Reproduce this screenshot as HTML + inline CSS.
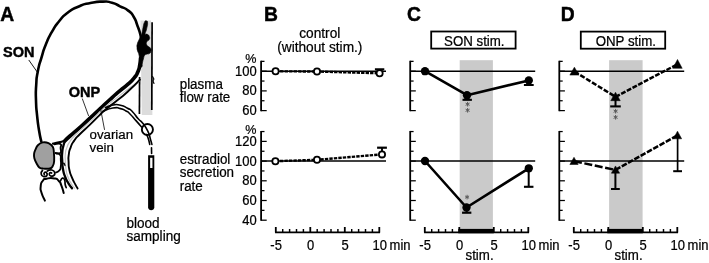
<!DOCTYPE html>
<html><head><meta charset="utf-8"><title>Figure</title>
<style>
html,body{margin:0;padding:0;background:#fff;}
body{width:709px;height:263px;overflow:hidden;font-family:"Liberation Sans",sans-serif;}
svg{display:block;filter:grayscale(1);}
</style></head><body>
<svg width="709" height="263" viewBox="0 0 709 263" font-family="'Liberation Sans', sans-serif">
<rect width="709" height="263" fill="#fff"/>
<rect x="459.7" y="60.2" width="33.2" height="172.2" fill="#cacaca"/>
<rect x="609.1" y="60.2" width="33.5" height="172.2" fill="#cacaca"/>
<text transform="translate(0.3,21.3) scale(1,1.08)" font-size="19.3" text-anchor="start" font-weight="bold" fill="#000" stroke="#000" stroke-width="0.45" >A</text>
<text transform="translate(263.9,21.2) scale(1,1.08)" font-size="19.3" text-anchor="start" font-weight="bold" fill="#000" stroke="#000" stroke-width="0.45" >B</text>
<text transform="translate(407.1,21.4) scale(1,1.08)" font-size="19.3" text-anchor="start" font-weight="bold" fill="#000" stroke="#000" stroke-width="0.45" >C</text>
<text transform="translate(560.8,21.2) scale(1,1.08)" font-size="19.3" text-anchor="start" font-weight="bold" fill="#000" stroke="#000" stroke-width="0.45" >D</text>
<text transform="translate(319.8,37.7) scale(1,1.05)" font-size="13.7" text-anchor="middle" font-weight="normal" fill="#000" stroke="#000" stroke-width="0.22" >control</text>
<text transform="translate(319.8,51.5) scale(1,1.05)" font-size="13.7" text-anchor="middle" font-weight="normal" fill="#000" stroke="#000" stroke-width="0.22" >(without stim.)</text>
<text transform="translate(250.8,62.8) scale(1,1.08)" font-size="12.6" text-anchor="middle" font-weight="normal" fill="#000" stroke="#000" stroke-width="0.22" >%</text>
<text transform="translate(250.8,133.5) scale(1,1.08)" font-size="12.6" text-anchor="middle" font-weight="normal" fill="#000" stroke="#000" stroke-width="0.22" >%</text>
<line x1="261.10" y1="60.75" x2="261.10" y2="111.20" stroke="#000" stroke-width="1.8" />
<line x1="261.10" y1="61.35" x2="264.50" y2="61.35" stroke="#000" stroke-width="1.25" />
<line x1="261.10" y1="71.20" x2="266.70" y2="71.20" stroke="#000" stroke-width="1.25" />
<text transform="translate(256.8,75.75) scale(1,1.08)" font-size="13" text-anchor="end" font-weight="normal" fill="#000" stroke="#000" stroke-width="0.22" >100</text>
<line x1="261.10" y1="81.05" x2="264.50" y2="81.05" stroke="#000" stroke-width="1.25" />
<line x1="261.10" y1="90.90" x2="266.70" y2="90.90" stroke="#000" stroke-width="1.25" />
<text transform="translate(256.8,95.45) scale(1,1.08)" font-size="13" text-anchor="end" font-weight="normal" fill="#000" stroke="#000" stroke-width="0.22" >80</text>
<line x1="261.10" y1="100.75" x2="264.50" y2="100.75" stroke="#000" stroke-width="1.25" />
<line x1="261.10" y1="110.60" x2="266.70" y2="110.60" stroke="#000" stroke-width="1.25" />
<text transform="translate(256.8,115.14999999999999) scale(1,1.08)" font-size="13" text-anchor="end" font-weight="normal" fill="#000" stroke="#000" stroke-width="0.22" >60</text>
<line x1="261.10" y1="130.95" x2="261.10" y2="220.80" stroke="#000" stroke-width="1.8" />
<line x1="261.10" y1="131.55" x2="264.50" y2="131.55" stroke="#000" stroke-width="1.25" />
<line x1="261.10" y1="141.40" x2="266.70" y2="141.40" stroke="#000" stroke-width="1.25" />
<text transform="translate(256.8,145.95000000000002) scale(1,1.08)" font-size="13" text-anchor="end" font-weight="normal" fill="#000" stroke="#000" stroke-width="0.22" >120</text>
<line x1="261.10" y1="151.25" x2="264.50" y2="151.25" stroke="#000" stroke-width="1.25" />
<line x1="261.10" y1="161.10" x2="266.70" y2="161.10" stroke="#000" stroke-width="1.25" />
<text transform="translate(256.8,165.65) scale(1,1.08)" font-size="13" text-anchor="end" font-weight="normal" fill="#000" stroke="#000" stroke-width="0.22" >100</text>
<line x1="261.10" y1="170.95" x2="264.50" y2="170.95" stroke="#000" stroke-width="1.25" />
<line x1="261.10" y1="180.80" x2="266.70" y2="180.80" stroke="#000" stroke-width="1.25" />
<text transform="translate(256.8,185.35) scale(1,1.08)" font-size="13" text-anchor="end" font-weight="normal" fill="#000" stroke="#000" stroke-width="0.22" >80</text>
<line x1="261.10" y1="190.65" x2="264.50" y2="190.65" stroke="#000" stroke-width="1.25" />
<line x1="261.10" y1="200.50" x2="266.70" y2="200.50" stroke="#000" stroke-width="1.25" />
<text transform="translate(256.8,205.05) scale(1,1.08)" font-size="13" text-anchor="end" font-weight="normal" fill="#000" stroke="#000" stroke-width="0.22" >60</text>
<line x1="261.10" y1="210.35" x2="264.50" y2="210.35" stroke="#000" stroke-width="1.25" />
<line x1="261.10" y1="220.20" x2="266.70" y2="220.20" stroke="#000" stroke-width="1.25" />
<text transform="translate(256.8,224.75) scale(1,1.08)" font-size="13" text-anchor="end" font-weight="normal" fill="#000" stroke="#000" stroke-width="0.22" >40</text>
<line x1="275.05" y1="232.40" x2="380.05" y2="232.40" stroke="#000" stroke-width="1.7" />
<line x1="275.80" y1="232.40" x2="275.80" y2="227.00" stroke="#000" stroke-width="1.8" />
<line x1="282.70" y1="232.40" x2="282.70" y2="229.00" stroke="#000" stroke-width="1.45" />
<line x1="289.60" y1="232.40" x2="289.60" y2="229.00" stroke="#000" stroke-width="1.45" />
<line x1="296.50" y1="232.40" x2="296.50" y2="229.00" stroke="#000" stroke-width="1.45" />
<line x1="303.40" y1="232.40" x2="303.40" y2="229.00" stroke="#000" stroke-width="1.45" />
<line x1="310.30" y1="232.40" x2="310.30" y2="227.00" stroke="#000" stroke-width="1.8" />
<line x1="317.20" y1="232.40" x2="317.20" y2="229.00" stroke="#000" stroke-width="1.45" />
<line x1="324.10" y1="232.40" x2="324.10" y2="229.00" stroke="#000" stroke-width="1.45" />
<line x1="331.00" y1="232.40" x2="331.00" y2="229.00" stroke="#000" stroke-width="1.45" />
<line x1="337.90" y1="232.40" x2="337.90" y2="229.00" stroke="#000" stroke-width="1.45" />
<line x1="344.80" y1="232.40" x2="344.80" y2="227.00" stroke="#000" stroke-width="1.8" />
<line x1="351.70" y1="232.40" x2="351.70" y2="229.00" stroke="#000" stroke-width="1.45" />
<line x1="358.60" y1="232.40" x2="358.60" y2="229.00" stroke="#000" stroke-width="1.45" />
<line x1="365.50" y1="232.40" x2="365.50" y2="229.00" stroke="#000" stroke-width="1.45" />
<line x1="372.40" y1="232.40" x2="372.40" y2="229.00" stroke="#000" stroke-width="1.45" />
<line x1="379.30" y1="232.40" x2="379.30" y2="227.00" stroke="#000" stroke-width="1.8" />
<text transform="translate(276.1,249.9) scale(1,1.08)" font-size="13" text-anchor="middle" font-weight="normal" fill="#000" stroke="#000" stroke-width="0.22" >-5</text>
<text transform="translate(310.7,249.9) scale(1,1.08)" font-size="13" text-anchor="middle" font-weight="normal" fill="#000" stroke="#000" stroke-width="0.22" >0</text>
<text transform="translate(345.2,249.9) scale(1,1.08)" font-size="13" text-anchor="middle" font-weight="normal" fill="#000" stroke="#000" stroke-width="0.22" >5</text>
<text transform="translate(379.7,249.9) scale(1,1.08)" font-size="13" text-anchor="middle" font-weight="normal" fill="#000" stroke="#000" stroke-width="0.22" >10</text>
<text transform="translate(389.6,249.8) scale(1,1.08)" font-size="13" text-anchor="start" font-weight="normal" fill="#000" stroke="#000" stroke-width="0.22" >min</text>
<text transform="translate(179.7,89.3) scale(1,1.03)" font-size="13.4" text-anchor="start" font-weight="normal" fill="#000" stroke="#000" stroke-width="0.22" >plasma</text>
<text transform="translate(179.7,102) scale(1,1.03)" font-size="13.4" text-anchor="start" font-weight="normal" fill="#000" stroke="#000" stroke-width="0.22" >flow rate</text>
<text transform="translate(179.7,163.8) scale(1,1.03)" font-size="13.4" text-anchor="start" font-weight="normal" fill="#000" stroke="#000" stroke-width="0.22" >estradiol</text>
<text transform="translate(179.7,177.2) scale(1,1.03)" font-size="13.4" text-anchor="start" font-weight="normal" fill="#000" stroke="#000" stroke-width="0.22" >secretion</text>
<text transform="translate(179.7,190.6) scale(1,1.03)" font-size="13.4" text-anchor="start" font-weight="normal" fill="#000" stroke="#000" stroke-width="0.22" >rate</text>
<line x1="261.10" y1="71.20" x2="386.00" y2="71.20" stroke="#000" stroke-width="1.35" />
<line x1="261.10" y1="161.00" x2="386.00" y2="161.00" stroke="#000" stroke-width="1.35" />
<polyline points="275.60,71.30 317.00,71.50 379.60,73.30" fill="none" stroke="#000" stroke-width="2.4" stroke-linejoin="round" stroke-dasharray="3.4 1.1"/>
<polyline points="275.40,161.20 317.00,159.80 382.00,154.40" fill="none" stroke="#000" stroke-width="2.4" stroke-linejoin="round" stroke-dasharray="3.4 1.1"/>
<line x1="379.60" y1="73.30" x2="379.60" y2="69.30" stroke="#000" stroke-width="1.9" />
<line x1="374.90" y1="69.30" x2="384.30" y2="69.30" stroke="#000" stroke-width="2.1" />
<line x1="382.00" y1="154.40" x2="382.00" y2="147.70" stroke="#000" stroke-width="1.9" />
<line x1="377.10" y1="147.70" x2="386.90" y2="147.70" stroke="#000" stroke-width="2.2" />
<circle cx="275.60" cy="71.30" r="3.1" fill="#fff" stroke="#000" stroke-width="1.8"/>
<circle cx="317.00" cy="71.50" r="3.1" fill="#fff" stroke="#000" stroke-width="1.8"/>
<circle cx="379.60" cy="73.30" r="3.1" fill="#fff" stroke="#000" stroke-width="1.8"/>
<circle cx="275.40" cy="161.20" r="3.1" fill="#fff" stroke="#000" stroke-width="1.8"/>
<circle cx="317.00" cy="159.80" r="3.1" fill="#fff" stroke="#000" stroke-width="1.8"/>
<circle cx="382.00" cy="154.40" r="3.1" fill="#fff" stroke="#000" stroke-width="1.8"/>
<rect x="431.2" y="31.5" width="84.4" height="17.1" fill="#fff" stroke="#000" stroke-width="1.8"/>
<text transform="translate(474.3,46) scale(1,1.08)" font-size="13.3" text-anchor="middle" font-weight="normal" fill="#000" stroke="#000" stroke-width="0.22" >SON stim.</text>
<line x1="410.20" y1="60.75" x2="410.20" y2="111.20" stroke="#000" stroke-width="1.8" />
<line x1="410.20" y1="61.35" x2="413.60" y2="61.35" stroke="#000" stroke-width="1.25" />
<line x1="410.20" y1="71.20" x2="415.80" y2="71.20" stroke="#000" stroke-width="1.25" />
<line x1="410.20" y1="81.05" x2="413.60" y2="81.05" stroke="#000" stroke-width="1.25" />
<line x1="410.20" y1="90.90" x2="415.80" y2="90.90" stroke="#000" stroke-width="1.25" />
<line x1="410.20" y1="100.75" x2="413.60" y2="100.75" stroke="#000" stroke-width="1.25" />
<line x1="410.20" y1="110.60" x2="415.80" y2="110.60" stroke="#000" stroke-width="1.25" />
<line x1="410.20" y1="130.95" x2="410.20" y2="220.80" stroke="#000" stroke-width="1.8" />
<line x1="410.20" y1="131.55" x2="413.60" y2="131.55" stroke="#000" stroke-width="1.25" />
<line x1="410.20" y1="141.40" x2="415.80" y2="141.40" stroke="#000" stroke-width="1.25" />
<line x1="410.20" y1="151.25" x2="413.60" y2="151.25" stroke="#000" stroke-width="1.25" />
<line x1="410.20" y1="161.10" x2="415.80" y2="161.10" stroke="#000" stroke-width="1.25" />
<line x1="410.20" y1="170.95" x2="413.60" y2="170.95" stroke="#000" stroke-width="1.25" />
<line x1="410.20" y1="180.80" x2="415.80" y2="180.80" stroke="#000" stroke-width="1.25" />
<line x1="410.20" y1="190.65" x2="413.60" y2="190.65" stroke="#000" stroke-width="1.25" />
<line x1="410.20" y1="200.50" x2="415.80" y2="200.50" stroke="#000" stroke-width="1.25" />
<line x1="410.20" y1="210.35" x2="413.60" y2="210.35" stroke="#000" stroke-width="1.25" />
<line x1="410.20" y1="220.20" x2="415.80" y2="220.20" stroke="#000" stroke-width="1.25" />
<line x1="424.05" y1="232.40" x2="529.05" y2="232.40" stroke="#000" stroke-width="1.7" />
<line x1="424.80" y1="232.40" x2="424.80" y2="227.00" stroke="#000" stroke-width="1.8" />
<line x1="431.70" y1="232.40" x2="431.70" y2="229.00" stroke="#000" stroke-width="1.45" />
<line x1="438.60" y1="232.40" x2="438.60" y2="229.00" stroke="#000" stroke-width="1.45" />
<line x1="445.50" y1="232.40" x2="445.50" y2="229.00" stroke="#000" stroke-width="1.45" />
<line x1="452.40" y1="232.40" x2="452.40" y2="229.00" stroke="#000" stroke-width="1.45" />
<line x1="459.30" y1="232.40" x2="459.30" y2="227.00" stroke="#000" stroke-width="1.8" />
<line x1="466.20" y1="232.40" x2="466.20" y2="229.00" stroke="#000" stroke-width="1.45" />
<line x1="473.10" y1="232.40" x2="473.10" y2="229.00" stroke="#000" stroke-width="1.45" />
<line x1="480.00" y1="232.40" x2="480.00" y2="229.00" stroke="#000" stroke-width="1.45" />
<line x1="486.90" y1="232.40" x2="486.90" y2="229.00" stroke="#000" stroke-width="1.45" />
<line x1="493.80" y1="232.40" x2="493.80" y2="227.00" stroke="#000" stroke-width="1.8" />
<line x1="500.70" y1="232.40" x2="500.70" y2="229.00" stroke="#000" stroke-width="1.45" />
<line x1="507.60" y1="232.40" x2="507.60" y2="229.00" stroke="#000" stroke-width="1.45" />
<line x1="514.50" y1="232.40" x2="514.50" y2="229.00" stroke="#000" stroke-width="1.45" />
<line x1="521.40" y1="232.40" x2="521.40" y2="229.00" stroke="#000" stroke-width="1.45" />
<line x1="528.30" y1="232.40" x2="528.30" y2="227.00" stroke="#000" stroke-width="1.8" />
<text transform="translate(425.1,249.9) scale(1,1.08)" font-size="13" text-anchor="middle" font-weight="normal" fill="#000" stroke="#000" stroke-width="0.22" >-5</text>
<text transform="translate(459.7,249.9) scale(1,1.08)" font-size="13" text-anchor="middle" font-weight="normal" fill="#000" stroke="#000" stroke-width="0.22" >0</text>
<text transform="translate(494.2,249.9) scale(1,1.08)" font-size="13" text-anchor="middle" font-weight="normal" fill="#000" stroke="#000" stroke-width="0.22" >5</text>
<text transform="translate(528.6999999999999,249.9) scale(1,1.08)" font-size="13" text-anchor="middle" font-weight="normal" fill="#000" stroke="#000" stroke-width="0.22" >10</text>
<text transform="translate(538.5999999999999,249.8) scale(1,1.08)" font-size="13" text-anchor="start" font-weight="normal" fill="#000" stroke="#000" stroke-width="0.22" >min</text>
<rect x="458.30" y="228.9" width="35.50" height="4.4" fill="#000"/>
<text transform="translate(479.55,260.1) scale(1,1.08)" font-size="13.3" text-anchor="middle" font-weight="normal" fill="#000" stroke="#000" stroke-width="0.22" >stim.</text>
<line x1="410.20" y1="71.20" x2="535.20" y2="71.20" stroke="#000" stroke-width="1.35" />
<line x1="410.20" y1="161.00" x2="535.20" y2="161.00" stroke="#000" stroke-width="1.35" />
<polyline points="425.00,71.20 467.00,95.20 528.80,80.40" fill="none" stroke="#000" stroke-width="2.6" stroke-linejoin="round" />
<polyline points="425.00,161.00 466.50,207.50 528.80,168.30" fill="none" stroke="#000" stroke-width="2.6" stroke-linejoin="round" />
<line x1="467.20" y1="95.20" x2="467.20" y2="99.80" stroke="#000" stroke-width="1.9" />
<line x1="462.50" y1="99.80" x2="471.90" y2="99.80" stroke="#000" stroke-width="2.1" />
<line x1="528.80" y1="80.40" x2="528.80" y2="85.00" stroke="#000" stroke-width="1.9" />
<line x1="523.90" y1="85.00" x2="533.70" y2="85.00" stroke="#000" stroke-width="2.0" />
<line x1="466.70" y1="207.50" x2="466.70" y2="212.70" stroke="#000" stroke-width="1.9" />
<line x1="462.05" y1="212.70" x2="471.35" y2="212.70" stroke="#000" stroke-width="2.2" />
<line x1="528.70" y1="168.30" x2="528.70" y2="186.80" stroke="#000" stroke-width="2.0" />
<line x1="523.95" y1="186.80" x2="533.45" y2="186.80" stroke="#000" stroke-width="2.1" />
<circle cx="425.00" cy="71.20" r="4.15" fill="#000"/>
<circle cx="467.00" cy="95.20" r="4.15" fill="#000"/>
<circle cx="528.80" cy="80.40" r="4.15" fill="#000"/>
<circle cx="425.00" cy="161.00" r="4.15" fill="#000"/>
<circle cx="466.50" cy="207.50" r="4.15" fill="#000"/>
<circle cx="528.80" cy="168.30" r="4.15" fill="#000"/>
<line x1="467.60" y1="101.90" x2="467.60" y2="106.50" stroke="#5a5a5a" stroke-width="1.0" />
<line x1="465.61" y1="103.05" x2="469.59" y2="105.35" stroke="#5a5a5a" stroke-width="1.0" />
<line x1="469.59" y1="103.05" x2="465.61" y2="105.35" stroke="#5a5a5a" stroke-width="1.0" />
<line x1="467.60" y1="108.00" x2="467.60" y2="112.60" stroke="#5a5a5a" stroke-width="1.0" />
<line x1="465.61" y1="109.15" x2="469.59" y2="111.45" stroke="#5a5a5a" stroke-width="1.0" />
<line x1="469.59" y1="109.15" x2="465.61" y2="111.45" stroke="#5a5a5a" stroke-width="1.0" />
<line x1="467.10" y1="194.80" x2="467.10" y2="199.40" stroke="#5a5a5a" stroke-width="1.0" />
<line x1="465.11" y1="195.95" x2="469.09" y2="198.25" stroke="#5a5a5a" stroke-width="1.0" />
<line x1="469.09" y1="195.95" x2="465.11" y2="198.25" stroke="#5a5a5a" stroke-width="1.0" />
<rect x="580.8" y="31.6" width="84.4" height="17.1" fill="#fff" stroke="#000" stroke-width="1.8"/>
<text transform="translate(625.8,46) scale(1,1.08)" font-size="13.3" text-anchor="middle" font-weight="normal" fill="#000" stroke="#000" stroke-width="0.22" >ONP stim.</text>
<line x1="559.30" y1="60.75" x2="559.30" y2="111.20" stroke="#000" stroke-width="1.8" />
<line x1="559.30" y1="61.35" x2="562.70" y2="61.35" stroke="#000" stroke-width="1.25" />
<line x1="559.30" y1="71.20" x2="564.90" y2="71.20" stroke="#000" stroke-width="1.25" />
<line x1="559.30" y1="81.05" x2="562.70" y2="81.05" stroke="#000" stroke-width="1.25" />
<line x1="559.30" y1="90.90" x2="564.90" y2="90.90" stroke="#000" stroke-width="1.25" />
<line x1="559.30" y1="100.75" x2="562.70" y2="100.75" stroke="#000" stroke-width="1.25" />
<line x1="559.30" y1="110.60" x2="564.90" y2="110.60" stroke="#000" stroke-width="1.25" />
<line x1="559.30" y1="130.95" x2="559.30" y2="220.80" stroke="#000" stroke-width="1.8" />
<line x1="559.30" y1="131.55" x2="562.70" y2="131.55" stroke="#000" stroke-width="1.25" />
<line x1="559.30" y1="141.40" x2="564.90" y2="141.40" stroke="#000" stroke-width="1.25" />
<line x1="559.30" y1="151.25" x2="562.70" y2="151.25" stroke="#000" stroke-width="1.25" />
<line x1="559.30" y1="161.10" x2="564.90" y2="161.10" stroke="#000" stroke-width="1.25" />
<line x1="559.30" y1="170.95" x2="562.70" y2="170.95" stroke="#000" stroke-width="1.25" />
<line x1="559.30" y1="180.80" x2="564.90" y2="180.80" stroke="#000" stroke-width="1.25" />
<line x1="559.30" y1="190.65" x2="562.70" y2="190.65" stroke="#000" stroke-width="1.25" />
<line x1="559.30" y1="200.50" x2="564.90" y2="200.50" stroke="#000" stroke-width="1.25" />
<line x1="559.30" y1="210.35" x2="562.70" y2="210.35" stroke="#000" stroke-width="1.25" />
<line x1="559.30" y1="220.20" x2="564.90" y2="220.20" stroke="#000" stroke-width="1.25" />
<line x1="573.05" y1="232.40" x2="678.05" y2="232.40" stroke="#000" stroke-width="1.7" />
<line x1="573.80" y1="232.40" x2="573.80" y2="227.00" stroke="#000" stroke-width="1.8" />
<line x1="580.70" y1="232.40" x2="580.70" y2="229.00" stroke="#000" stroke-width="1.45" />
<line x1="587.60" y1="232.40" x2="587.60" y2="229.00" stroke="#000" stroke-width="1.45" />
<line x1="594.50" y1="232.40" x2="594.50" y2="229.00" stroke="#000" stroke-width="1.45" />
<line x1="601.40" y1="232.40" x2="601.40" y2="229.00" stroke="#000" stroke-width="1.45" />
<line x1="608.30" y1="232.40" x2="608.30" y2="227.00" stroke="#000" stroke-width="1.8" />
<line x1="615.20" y1="232.40" x2="615.20" y2="229.00" stroke="#000" stroke-width="1.45" />
<line x1="622.10" y1="232.40" x2="622.10" y2="229.00" stroke="#000" stroke-width="1.45" />
<line x1="629.00" y1="232.40" x2="629.00" y2="229.00" stroke="#000" stroke-width="1.45" />
<line x1="635.90" y1="232.40" x2="635.90" y2="229.00" stroke="#000" stroke-width="1.45" />
<line x1="642.80" y1="232.40" x2="642.80" y2="227.00" stroke="#000" stroke-width="1.8" />
<line x1="649.70" y1="232.40" x2="649.70" y2="229.00" stroke="#000" stroke-width="1.45" />
<line x1="656.60" y1="232.40" x2="656.60" y2="229.00" stroke="#000" stroke-width="1.45" />
<line x1="663.50" y1="232.40" x2="663.50" y2="229.00" stroke="#000" stroke-width="1.45" />
<line x1="670.40" y1="232.40" x2="670.40" y2="229.00" stroke="#000" stroke-width="1.45" />
<line x1="677.30" y1="232.40" x2="677.30" y2="227.00" stroke="#000" stroke-width="1.8" />
<text transform="translate(574.0999999999999,249.9) scale(1,1.08)" font-size="13" text-anchor="middle" font-weight="normal" fill="#000" stroke="#000" stroke-width="0.22" >-5</text>
<text transform="translate(608.6999999999999,249.9) scale(1,1.08)" font-size="13" text-anchor="middle" font-weight="normal" fill="#000" stroke="#000" stroke-width="0.22" >0</text>
<text transform="translate(643.1999999999999,249.9) scale(1,1.08)" font-size="13" text-anchor="middle" font-weight="normal" fill="#000" stroke="#000" stroke-width="0.22" >5</text>
<text transform="translate(677.6999999999999,249.9) scale(1,1.08)" font-size="13" text-anchor="middle" font-weight="normal" fill="#000" stroke="#000" stroke-width="0.22" >10</text>
<text transform="translate(687.5999999999999,249.8) scale(1,1.08)" font-size="13" text-anchor="start" font-weight="normal" fill="#000" stroke="#000" stroke-width="0.22" >min</text>
<rect x="607.30" y="228.9" width="35.50" height="4.4" fill="#000"/>
<text transform="translate(628.55,260.1) scale(1,1.08)" font-size="13.3" text-anchor="middle" font-weight="normal" fill="#000" stroke="#000" stroke-width="0.22" >stim.</text>
<line x1="559.30" y1="71.20" x2="684.20" y2="71.20" stroke="#000" stroke-width="1.35" />
<line x1="559.30" y1="161.00" x2="684.20" y2="161.00" stroke="#000" stroke-width="1.35" />
<polyline points="574.40,71.45 615.50,96.80" fill="none" stroke="#000" stroke-width="2.5" stroke-linejoin="round" stroke-dasharray="5.1 1.8"/>
<polyline points="615.50,96.80 677.50,64.23" fill="none" stroke="#000" stroke-width="2.5" stroke-linejoin="round" stroke-dasharray="4.9 1.5"/>
<polyline points="574.00,161.20 615.50,169.90" fill="none" stroke="#000" stroke-width="2.5" stroke-linejoin="round" stroke-dasharray="8 2.6"/>
<polyline points="615.50,169.90 677.50,135.30" fill="none" stroke="#000" stroke-width="2.5" stroke-linejoin="round" stroke-dasharray="5.6 1.6"/>
<line x1="615.50" y1="99.00" x2="615.50" y2="106.40" stroke="#000" stroke-width="2.0" />
<line x1="610.20" y1="106.40" x2="620.80" y2="106.40" stroke="#000" stroke-width="2.1" />
<line x1="615.40" y1="172.00" x2="615.40" y2="189.00" stroke="#000" stroke-width="2.0" />
<line x1="611.00" y1="189.00" x2="619.80" y2="189.00" stroke="#000" stroke-width="2.0" />
<line x1="677.60" y1="138.00" x2="677.60" y2="171.20" stroke="#000" stroke-width="1.7" />
<line x1="673.20" y1="171.20" x2="682.00" y2="171.20" stroke="#000" stroke-width="2.0" />
<polygon points="574.40,67.15 569.85,75.10 578.95,75.10" fill="#000" stroke="#000" stroke-width="0.5" stroke-linejoin="round"/>
<polygon points="615.50,92.25 610.75,100.70 620.25,100.70" fill="#000" stroke="#000" stroke-width="0.5" stroke-linejoin="round"/>
<polygon points="677.50,59.45 672.80,68.35 682.20,68.35" fill="#000" stroke="#000" stroke-width="0.5" stroke-linejoin="round"/>
<polygon points="574.00,157.25 569.85,164.50 578.15,164.50" fill="#000" stroke="#000" stroke-width="0.5" stroke-linejoin="round"/>
<polygon points="615.50,165.95 611.35,173.20 619.65,173.20" fill="#000" stroke="#000" stroke-width="0.5" stroke-linejoin="round"/>
<polygon points="677.50,131.15 673.35,138.80 681.65,138.80" fill="#000" stroke="#000" stroke-width="0.5" stroke-linejoin="round"/>
<line x1="615.60" y1="108.90" x2="615.60" y2="113.50" stroke="#5a5a5a" stroke-width="1.0" />
<line x1="613.61" y1="110.05" x2="617.59" y2="112.35" stroke="#5a5a5a" stroke-width="1.0" />
<line x1="617.59" y1="110.05" x2="613.61" y2="112.35" stroke="#5a5a5a" stroke-width="1.0" />
<line x1="615.60" y1="115.00" x2="615.60" y2="119.60" stroke="#5a5a5a" stroke-width="1.0" />
<line x1="613.61" y1="116.15" x2="617.59" y2="118.45" stroke="#5a5a5a" stroke-width="1.0" />
<line x1="617.59" y1="116.15" x2="613.61" y2="118.45" stroke="#5a5a5a" stroke-width="1.0" />
<g id="A" fill="none" stroke="#000" stroke-linecap="round" stroke-linejoin="round">
<path d="M140.4 20.6 L151 20.6 L152.4 115 L141.8 115 Z" fill="#dcdcdc" stroke="none"/>
<path d="M152.1 22.3 L151.8 110" stroke-width="1.7" stroke-linecap="butt"/>
<path d="M152.6 76.5 L153.9 79 L153 81 L154 83.5" stroke-width="1.1"/>
<path d="M139.6 77 L139.4 114" stroke-width="1.7" stroke-linecap="butt"/>
<path d="M41.30 141.50 C40.57 137.93 40.50 139.43 39.10 130.80 C37.70 122.17 38.13 125.73 37.10 115.60 C36.07 105.47 36.30 110.53 36.00 100.40 C35.70 90.27 35.60 94.83 36.20 85.20 C36.80 75.57 36.07 80.63 37.80 71.50 C39.53 62.37 38.67 66.93 41.40 57.80 C44.13 48.67 42.50 52.73 46.00 44.10 C49.50 35.47 47.53 39.50 51.90 31.90 C56.27 24.30 53.87 27.67 59.10 21.30 C64.33 14.93 61.23 17.67 67.60 12.80 C73.97 7.93 70.60 9.97 78.20 6.70 C85.80 3.43 82.13 4.70 90.40 3.00 C98.67 1.30 95.80 1.67 103.00 1.60 C110.20 1.53 106.33 1.23 112.00 2.80 C117.67 4.37 114.60 3.70 120.00 6.30 C125.40 8.90 123.60 7.03 128.20 10.60 C132.80 14.17 130.80 12.20 133.80 17.00 C136.80 21.80 135.20 19.83 137.20 25.00 C139.20 30.17 138.53 28.17 139.80 32.50 C141.07 36.83 140.60 36.17 141.00 38.00" stroke-width="2.6" fill="none" stroke="#000" />
<path d="M146.20 21.10 C147.27 21.30 147.47 20.37 147.60 23.00 C147.73 25.63 147.37 25.33 146.60 29.00 C145.83 32.67 145.07 32.23 145.30 34.00 C145.53 35.77 145.97 33.47 147.30 34.30 C148.63 35.13 148.67 34.77 149.30 36.50 C149.93 38.23 149.97 37.80 149.20 39.50 C148.43 41.20 147.87 39.93 147.00 41.60 C146.13 43.27 146.10 42.83 146.60 44.50 C147.10 46.17 147.17 45.27 148.50 46.60 C149.83 47.93 149.83 46.87 150.60 48.50 C151.37 50.13 151.27 49.80 150.80 51.50 C150.33 53.20 150.63 52.70 149.20 53.60 C147.77 54.50 148.03 53.57 146.50 54.20 C144.97 54.83 145.63 53.90 144.60 55.50 C143.57 57.10 144.13 56.50 143.40 59.00 C142.67 61.50 143.00 60.33 142.40 63.00 C141.80 65.67 142.87 65.67 141.60 67.00 C140.33 68.33 139.33 69.00 138.60 67.00 C137.87 65.00 139.27 65.00 139.40 61.00 C139.53 57.00 139.60 58.33 139.00 55.00 C138.40 51.67 138.27 53.50 137.60 51.00 C136.93 48.50 137.10 49.83 137.00 47.50 C136.90 45.17 136.63 46.57 137.30 44.00 C137.97 41.43 137.70 42.63 139.00 39.80 C140.30 36.97 140.20 37.77 141.20 35.50 C142.20 33.23 141.40 35.60 142.00 33.00 C142.60 30.40 142.20 31.23 143.00 27.70 C143.80 24.17 143.33 24.60 144.40 22.40 C145.47 20.20 145.13 20.90 146.20 21.10 Z" stroke-width="0.6" fill="#000" stroke="#000" />
<path d="M140.60 58.00 C140.33 60.33 140.73 60.33 139.80 65.00 C138.87 69.67 139.67 67.73 137.80 72.00 C135.93 76.27 137.47 73.73 134.20 77.80 C130.93 81.87 132.90 79.73 128.00 84.20 C123.10 88.67 125.50 86.10 119.50 91.20 C113.50 96.30 116.50 93.63 110.00 99.50 C103.50 105.37 106.67 102.57 100.00 108.80 C93.33 115.03 96.67 112.03 90.00 118.20 C83.33 124.37 86.67 121.37 80.00 127.30 C73.33 133.23 75.07 131.50 70.00 136.00 C64.93 140.50 66.53 139.20 64.80 140.80" stroke-width="3.7" fill="none" stroke="#000" />
<path d="M65.50 140.40 C63.33 141.07 63.17 141.33 59.00 142.40 C54.83 143.47 55.00 143.20 53.00 143.60" stroke-width="2.2" fill="none" stroke="#000" />
<path d="M65.20 140.40 C64.60 142.20 64.40 141.67 63.40 145.80 C62.40 149.93 62.60 147.93 62.20 152.80 C61.80 157.67 61.93 155.00 62.20 160.40 C62.47 165.80 62.00 163.47 63.00 169.00 C64.00 174.53 63.33 172.13 65.20 177.00 C67.07 181.87 66.33 179.87 68.60 183.60 C70.87 187.33 70.87 186.67 72.00 188.20" stroke-width="2.3" fill="none" stroke="#000" />
<path d="M139.00 81.50 C135.17 84.20 134.83 84.23 127.50 89.60 C120.17 94.97 124.83 91.47 117.00 97.60 C109.17 103.73 111.33 101.63 104.00 108.00 C96.67 114.37 101.33 110.70 95.00 116.70 C88.67 122.70 91.33 120.07 85.00 126.00 C78.67 131.93 81.00 129.37 76.00 134.50 C71.00 139.63 73.03 137.03 70.00 141.40 C66.97 145.77 68.43 143.60 66.90 147.60 C65.37 151.60 65.93 149.10 65.40 153.40 C64.87 157.70 65.10 155.30 65.30 160.50 C65.50 165.70 65.10 163.50 66.00 169.00 C66.90 174.50 66.17 172.00 68.00 177.00 C69.83 182.00 69.30 180.27 71.50 184.00 C73.70 187.73 73.57 186.80 74.60 188.20" stroke-width="1.2" fill="none" stroke="#c2c2c2" />
<path d="M139.90 79.60 C136.50 83.00 136.90 83.13 129.70 89.80 C122.50 96.47 126.20 93.13 118.30 99.60 C110.40 106.07 112.40 103.87 106.00 109.20 C99.60 114.53 104.43 110.47 99.10 115.60 C93.77 120.73 96.37 118.47 90.00 124.60 C83.63 130.73 85.27 128.67 80.00 134.00 C74.73 139.33 77.33 136.07 74.20 140.60 C71.07 145.13 72.40 142.93 70.60 147.60 C68.80 152.27 69.47 149.80 68.80 154.60 C68.13 159.40 68.40 156.87 68.60 162.00 C68.80 167.13 68.27 164.80 69.40 170.00 C70.53 175.20 70.03 172.80 72.00 177.60 C73.97 182.40 73.43 180.80 75.30 184.40 C77.17 188.00 76.83 187.07 77.60 188.40" stroke-width="1.9" fill="none" stroke="#000" />
<path d="M105.50 107.60 C107.93 106.73 107.83 105.77 112.80 105.00 C117.77 104.23 115.50 104.23 120.40 105.30 C125.30 106.37 123.40 105.97 127.50 108.20 C131.60 110.43 129.13 108.47 132.70 112.00 C136.27 115.53 134.77 114.93 138.20 118.80 C141.63 122.67 139.80 119.47 143.00 123.60 C146.20 127.73 145.30 125.93 147.80 131.20 C150.30 136.47 149.13 135.00 150.50 139.40 C151.87 143.80 151.43 142.73 151.90 144.40" stroke-width="1.6" fill="none" stroke="#000" />
<path d="M102.60 111.40 C106.00 110.27 106.87 108.93 112.80 108.00 C118.73 107.07 116.00 107.60 120.40 108.60 C124.80 109.60 122.80 109.20 126.00 111.00 C129.20 112.80 126.60 110.70 130.00 114.00 C133.40 117.30 132.33 116.57 136.20 120.90 C140.07 125.23 139.80 124.97 141.60 127.00" stroke-width="1.6" fill="none" stroke="#000" />
<path d="M146.60 134.60 C147.20 136.07 147.37 135.73 148.40 139.00 C149.43 142.27 149.27 142.60 149.70 144.40" stroke-width="1.6" fill="none" stroke="#000" />
<circle cx="147.4" cy="129.5" r="5.55" stroke-width="1.9"/>
<path d="M151.5 147.8 L151.6 153.4" stroke-width="1.6" stroke-linecap="round"/>
<path d="M148.1 155.3 L154.3 155.3 L154.3 207.6 C154.3 211 148.1 211 148.1 207.6 Z" fill="#000" stroke="none"/>
<rect x="150.15" y="157.8" width="2.3" height="10.2" fill="#fff" stroke="none"/>
<path d="M37.88 145.20 C39.45 143.67 40.55 142.81 42.81 142.36 C45.07 141.92 46.36 142.19 48.48 143.12 C50.61 144.05 51.61 144.72 52.76 146.71 C53.91 148.71 53.58 149.41 53.88 152.48 C54.18 155.54 54.40 158.17 54.16 161.08 C53.92 163.98 53.68 164.49 52.76 166.08 C51.85 167.68 52.00 168.02 49.88 168.54 C47.76 169.07 45.07 168.76 42.81 168.54 C40.55 168.32 40.63 168.63 39.28 167.50 C37.93 166.37 37.54 165.24 36.49 163.25 C35.44 161.25 34.86 160.14 34.35 158.15 C33.83 156.15 33.83 155.73 34.07 153.89 C34.31 152.06 34.65 151.40 35.46 149.55 C36.28 147.69 36.32 146.73 37.88 145.20 Z" fill="#a0a0a0" stroke-width="1.9"/>
<path d="M42.5 170.5 C40.3 172.5 40.8 176 43.8 176.6 C46.8 177.2 48.2 174.3 46.4 172.6 C45 171.6 43.3 173 44.3 174.6" stroke-width="1.7"/>
<path d="M47.2 171.2 C50 168.8 54.2 169.8 54.8 172.8 C55.3 175.8 51.5 177.2 49.7 175.2 C48.6 173.6 50 172 51.6 173" stroke-width="1.7"/>
<path d="M44.90 200.60 C43.80 198.07 43.00 197.70 41.60 193.00 C40.20 188.30 40.37 190.50 40.70 186.50 C41.03 182.50 40.63 183.60 42.60 181.00 C44.57 178.40 42.70 179.57 46.60 178.70 C50.50 177.83 50.23 177.63 54.30 178.40 C58.37 179.17 56.43 178.60 58.80 181.00 C61.17 183.40 59.77 181.60 61.40 185.60 C63.03 189.60 62.93 190.53 63.70 193.00" stroke-width="2.0" fill="none" stroke="#000" />
<path d="M54.60 144.20 C56.53 144.13 58.40 142.73 60.40 144.00 C62.40 145.27 60.60 145.07 60.60 148.00 C60.60 150.93 62.07 151.13 60.40 152.80 C58.73 154.47 57.20 152.93 55.60 153.00" stroke-width="1.9" fill="none" stroke="#000" />
<path d="M56.00 153.40 C57.33 153.87 58.40 152.60 60.00 154.80 C61.60 157.00 60.53 156.10 60.80 160.00 C61.07 163.90 61.30 163.00 60.80 166.50 C60.30 170.00 60.90 168.53 59.30 170.50 C57.70 172.47 57.10 171.77 56.00 172.40" stroke-width="1.8" fill="none" stroke="#000" />
<path d="M60.50 180.80 C61.17 179.93 61.13 178.47 62.50 178.20 C63.87 177.93 63.70 177.90 64.60 180.00 C65.50 182.10 64.67 181.97 65.20 184.50 C65.73 187.03 65.87 186.57 66.20 187.60" stroke-width="1.7" fill="none" stroke="#000" />
<path d="M62.50 165.00 C62.93 164.33 62.97 162.83 63.80 163.00 C64.63 163.17 64.60 164.67 65.00 165.50" stroke-width="1.2" fill="none" stroke="#000" />
<path d="M29 60.3 L37.2 72" stroke-width="0.9"/>
<path d="M82.4 98.9 L88.5 115.6" stroke-width="0.8"/>
<path d="M100.6 109 L104.5 129.5" stroke-width="0.8"/>
</g>
<text transform="translate(3,57.4) scale(1,1.0)" font-size="14.5" text-anchor="start" font-weight="bold" fill="#000" stroke="#000" stroke-width="0.45" >SON</text>
<text transform="translate(68.8,97) scale(1,1.0)" font-size="14.5" text-anchor="start" font-weight="bold" fill="#000" stroke="#000" stroke-width="0.45" >ONP</text>
<text transform="translate(89.5,138.6) scale(1,1.03)" font-size="13.3" text-anchor="start" font-weight="normal" fill="#000" stroke="#000" stroke-width="0.22" >ovarian</text>
<text transform="translate(89.5,152.4) scale(1,1.03)" font-size="13.3" text-anchor="start" font-weight="normal" fill="#000" stroke="#000" stroke-width="0.22" >vein</text>
<text transform="translate(126.5,227.8) scale(1,1.03)" font-size="13.55" text-anchor="start" font-weight="normal" fill="#000" stroke="#000" stroke-width="0.22" >blood</text>
<text transform="translate(126.5,240.6) scale(1,1.03)" font-size="13.55" text-anchor="start" font-weight="normal" fill="#000" stroke="#000" stroke-width="0.22" >sampling</text>
</svg>
</body></html>
